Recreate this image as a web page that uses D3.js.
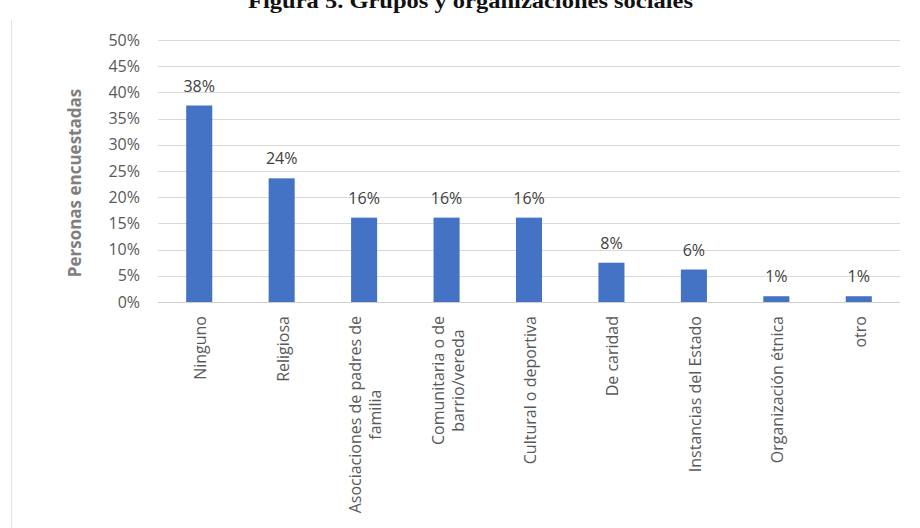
<!DOCTYPE html>
<html>
<head>
<meta charset="utf-8">
<script src="https://cdn.jsdelivr.net/npm/d3@7"></script>
<style>
  body { margin: 0; background: #fff; }
  svg { display: block; }
</style>
</head>
<body>
<div id="chart"></div>
<script>
const categories = [
  ["Ninguno"],
  ["Religiosa"],
  ["Asociaciones de padres de", "familia"],
  ["Comunitaria o de", "barrio/vereda"],
  ["Cultural o deportiva"],
  ["De caridad"],
  ["Instancias del Estado"],
  ["Organización  étnica"],
  ["otro"]
];
const values = [0.375, 0.236, 0.161, 0.161, 0.161, 0.075, 0.062, 0.011, 0.011];
const yTicks = [0, 0.05, 0.1, 0.15, 0.2, 0.25, 0.3, 0.35, 0.4, 0.45, 0.5];

const width = 920;
const height = 528;
const margin = { top: 40, right: 20, bottom: 226, left: 158 };
const font = "'Open Sans', 'Noto Sans', sans-serif";

const svg = d3.select("#chart").append("svg").attr("width", width).attr("height", height);

// outer frame edge
svg.append("line")
  .attr("x1", 11.5).attr("x2", 11.5)
  .attr("y1", 20).attr("y2", height)
  .attr("stroke", "#e3e3e3")
  .attr("stroke-width", 1);

svg.append("text")
  .attr("x", 248)
  .attr("y", 8)
  .attr("textLength", 445)
  .attr("lengthAdjust", "spacingAndGlyphs")
  .attr("font-family", "'Liberation Serif', 'DejaVu Serif', serif")
  .attr("font-weight", "bold")
  .attr("font-size", 22)
  .attr("fill", "#111")
  .text("Figura 5. Grupos y organizaciones sociales");

const x = d3.scaleBand()
  .domain(d3.range(categories.length))
  .range([margin.left, width - margin.right])
  .paddingInner(0.684)
  .paddingOuter(0.342);

const y = d3.scaleLinear()
  .domain([0, 0.5])
  .range([height - margin.bottom, margin.top]);

const pct = d3.format(".0%");

// gridlines
svg.append("g")
  .selectAll("line")
  .data(yTicks)
  .enter()
  .append("line")
  .attr("x1", margin.left)
  .attr("x2", width - margin.right)
  .attr("y1", (d) => Math.round(y(d)) + 0.5)
  .attr("y2", (d) => Math.round(y(d)) + 0.5)
  .attr("stroke", (d) => (d === 0 ? "#d0d0d0" : "#d9d9d9"))
  .attr("stroke-width", 1);

// y axis labels
const yAxis = svg.append("g")
  .attr("transform", `translate(${margin.left - 18},0)`)
  .call(d3.axisLeft(y).tickValues(yTicks).tickFormat(pct).tickSize(0).tickPadding(0));
yAxis.select(".domain").remove();
yAxis.selectAll("text")
  .attr("font-family", font)
  .attr("font-size", 16)
  .attr("fill", "#595959");

svg.append("text")
  .attr("transform", `translate(81,${(margin.top + height - margin.bottom) / 2 + 12}) rotate(-90)`)
  .attr("text-anchor", "middle")
  .attr("font-family", font)
  .attr("font-weight", "bold")
  .attr("font-size", 17)
  .attr("fill", "#7f7f7f")
  .text("Personas encuestadas");

// bars
svg.append("g")
  .selectAll("rect")
  .data(values)
  .enter()
  .append("rect")
  .attr("x", (d, i) => x(i))
  .attr("y", (d) => y(d))
  .attr("width", x.bandwidth())
  .attr("height", (d) => y(0) - y(d))
  .attr("fill", "#4472c4");

// value labels
svg.append("g")
  .selectAll("text")
  .data(values)
  .enter()
  .append("text")
  .attr("x", (d, i) => x(i) + x.bandwidth() / 2)
  .attr("y", (d) => y(d) - 14)
  .attr("text-anchor", "middle")
  .attr("font-family", font)
  .attr("font-size", 16)
  .attr("fill", "#404040")
  .text((d) => pct(d));

// category labels, rotated and wrapped
const labelTop = height - margin.bottom + 14;
const lineGap = 20;
const catLabels = svg.append("g")
  .selectAll("text")
  .data(categories)
  .enter()
  .append("text")
  .attr("font-family", font)
  .attr("font-size", 16)
  .attr("fill", "#595959")
  .attr("transform", (d, i) => {
    const cx = x(i) + x.bandwidth() / 2;
    const bx = cx + 7 - ((d.length - 1) * lineGap) / 2;
    return `translate(${bx},${labelTop}) rotate(-90)`;
  });

catLabels.each(function (lines) {
  const t = d3.select(this);
  lines.forEach((line, j) => {
    t.append("tspan")
      .attr("y", j * lineGap)
      .attr("x", 0)
      .attr("text-anchor", "middle")
      .text(line);
  });
});

// shift wrapped labels so the longest line starts just under the axis
catLabels.each(function () {
  const t = d3.select(this);
  let maxW = 0;
  t.selectAll("tspan").each(function () {
    maxW = Math.max(maxW, this.getComputedTextLength());
  });
  t.selectAll("tspan").attr("x", -maxW / 2);
});
</script>
</body>
</html>
